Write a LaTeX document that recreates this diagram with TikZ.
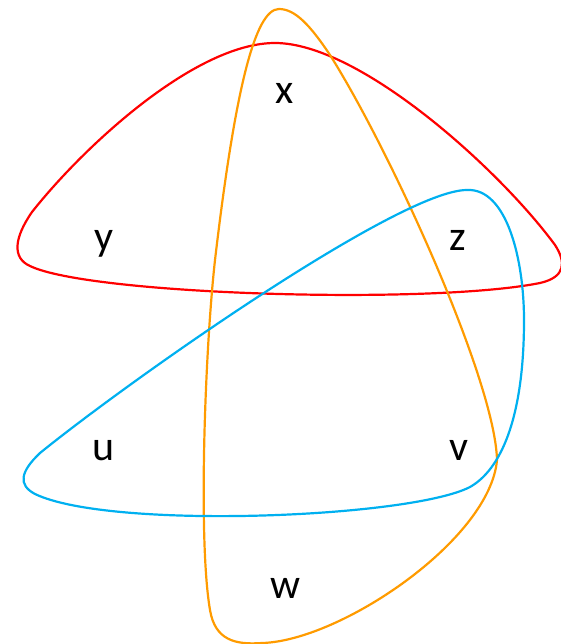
\documentclass[tikz,border=0pt]{standalone}
\usepackage{fontspec}
\setmainfont{Carlito}
\definecolor{hred}{RGB}{255,0,0}
\definecolor{horange}{RGB}{255,155,0}
\definecolor{hblue}{RGB}{0,176,240}
\begin{document}
\begin{tikzpicture}[x=1pt,y=-1pt,
  edgeline/.style={line width=2.2pt},
  vlabel/.style={font=\fontsize{42}{50}\selectfont, inner sep=0pt, anchor=base}]
\useasboundingbox (0,0) rectangle (561,644);
% red hyperedge
\draw[edgeline, hred] (275,43)
  .. controls (196,43) and (85,145) .. (32,212)
  .. controls (14,238) and (12,258) .. (30,266)
  .. controls (90,295) and (430,305) .. (540,283)
  .. controls (566,277) and (566,262) .. (555,245)
  .. controls (500,170) and (360,43) .. (275,43) -- cycle;
% orange hyperedge
\draw[edgeline, horange] (279,9)
  .. controls (255,9) and (235,90) .. (215,260)
  .. controls (205,350) and (198,540) .. (210,610)
  .. controls (215,640) and (235,645) .. (262,643)
  .. controls (340,641) and (490,540) .. (497,460)
  .. controls (495,380) and (390,150) .. (330,55)
  .. controls (310,25) and (295,9) .. (279,9) -- cycle;
% blue hyperedge
\draw[edgeline, hblue] (467,190)
  .. controls (507,188) and (524,260) .. (524,320)
  .. controls (524,420) and (500,470) .. (470,487)
  .. controls (410,518) and (110,530) .. (35,494)
  .. controls (18,485) and (20,472) .. (40,453)
  .. controls (130,380) and (400,190) .. (467,190) -- cycle;
\node[vlabel] (x) at (285,104) {x};
\node[vlabel] (y) at (104,250) {y};
\node[vlabel] (z) at (458,250) {z};
\node[vlabel] (u) at (104,460) {u};
\node[vlabel] (v) at (459,460) {v};
\node[vlabel] (w) at (286,598) {w};
\end{tikzpicture}
\end{document}
